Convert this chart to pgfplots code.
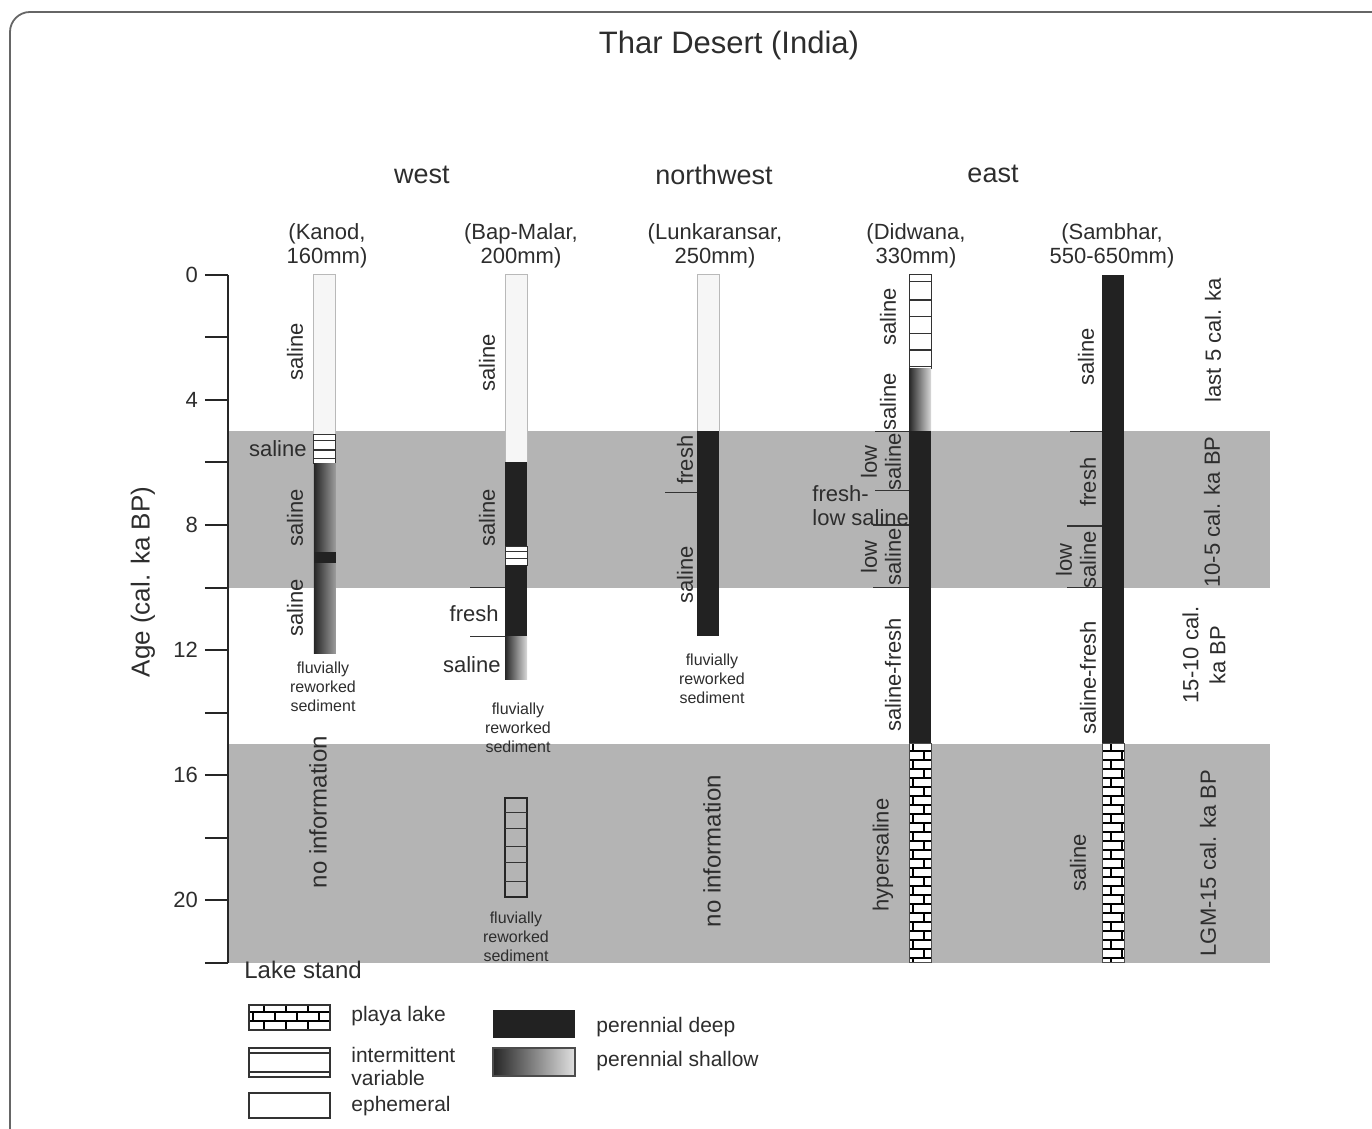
\documentclass[border=0pt]{standalone}
\usepackage{pgfplots}
\pgfplotsset{compat=1.18}
\usepackage{fontspec}
\setmainfont{Liberation Sans}
\usetikzlibrary{patterns}

\definecolor{band}{RGB}{180,180,180}
\definecolor{deepc}{RGB}{34,34,34}
\definecolor{txt}{RGB}{45,45,45}

% brick pattern for playa lake
\pgfdeclarepatternformonly{playa}{\pgfqpoint{-1pt}{-1pt}}{\pgfqpoint{12pt}{10pt}}{\pgfqpoint{11pt}{9pt}}{%
  \pgfsetlinewidth{0.6pt}%
  \pgfpathmoveto{\pgfqpoint{0pt}{0pt}}\pgfpathlineto{\pgfqpoint{11pt}{0pt}}%
  \pgfpathmoveto{\pgfqpoint{0pt}{4.5pt}}\pgfpathlineto{\pgfqpoint{11pt}{4.5pt}}%
  \pgfpathmoveto{\pgfqpoint{5.5pt}{0pt}}\pgfpathlineto{\pgfqpoint{5.5pt}{4.5pt}}%
  \pgfpathmoveto{\pgfqpoint{0pt}{4.5pt}}\pgfpathlineto{\pgfqpoint{0pt}{9pt}}%
  \pgfusepath{stroke}}

\tikzset{
  eph/.style={fill=gray!7, draw=gray!55, line width=0.5pt},
  deep/.style={fill=deepc, draw=none},
  shallow/.style={draw=none, left color=black!85, right color=black!15},
  shallowk/.style={draw=none, left color=black!85, right color=black!38},
  interm/.style={fill=white, draw=black!80, line width=0.5pt},
  playacol/.style={preaction={fill=white}, pattern=playa, draw=black!70, line width=0.5pt},
}

% one segment of a lake column: x left, x right, age top, age bottom, style
\newcommand{\seg}[5]{\addplot[#5] coordinates {(#1,#3) (#2,#3) (#2,#4) (#1,#4)} -- cycle;}
\newcommand{\hl}[4][black!80, line width=0.6pt]{\addplot[#1] coordinates {(#2,#4) (#3,#4)};}

\newcommand{\fa}{\fontsize{11}{12}\selectfont}
\newcommand{\fb}{\fontsize{13.5}{15}\selectfont}
\newcommand{\fs}{\fontsize{8}{9.5}\selectfont}
\newcommand{\fl}{\fontsize{10.5}{11.5}\selectfont}

\begin{document}
\begin{tikzpicture}
\begin{axis}[
  scale only axis, width=521pt, height=343.75pt,
  xmin=228, xmax=1270, ymin=0, ymax=22, y dir=reverse,
  clip=false, axis on top,
  axis x line=none, axis y line*=left,
  ytick={0,2,...,22}, yticklabels={0,,4,,8,,12,,16,,20,},
  tick align=outside, major tick length=11.5pt,
  tick style={black!85, line width=1pt},
  axis line style={black!85, line width=1.1pt},
  yticklabel style={font=\fa, text=txt},
]
% time bands
\seg{228}{1270}{5}{10}{fill=band, draw=none}
\seg{228}{1270}{15}{22}{fill=band, draw=none}

% Kanod
\seg{314}{336}{0}{5.12}{eph}
\seg{314}{336}{5.12}{6.03}{interm}
\hl{314}{336}{5.3} \hl{314}{336}{5.6} \hl{314}{336}{5.86}
\seg{314}{336}{6.03}{12.1}{shallowk}
\seg{314}{336}{8.85}{9.2}{deep}

% Bap-Malar
\seg{505}{527}{0}{6.0}{eph}
\seg{505}{527}{6.0}{8.69}{deep}
\seg{505}{527}{8.69}{9.28}{interm}
\hl{505}{527}{8.85} \hl{505}{527}{9.07}
\seg{505}{527}{9.28}{11.57}{deep}
\seg{505}{527}{11.57}{12.95}{shallow}
\hl{470}{505}{10.0} \hl{470}{505}{11.57}
\seg{505}{527}{16.74}{19.9}{draw=black!85, line width=0.7pt}
\hl{505}{527}{17.2} \hl{505}{527}{17.7} \hl{505}{527}{18.3}
\hl{505}{527}{18.8} \hl{505}{527}{19.4}

% Lunkaransar
\seg{697}{719}{0}{5.0}{eph}
\seg{697}{719}{5.0}{11.55}{deep}
\hl{665}{697}{6.95}

% Didwana
\seg{909}{931}{0}{3.0}{interm}
\hl{909}{931}{0.21} \hl{909}{931}{0.8} \hl{909}{931}{1.33}
\hl{909}{931}{1.87} \hl{909}{931}{2.4} \hl{909}{931}{2.93}
\seg{909}{931}{3.0}{5.0}{shallow}
\seg{909}{931}{5.0}{15.0}{deep}
\seg{909}{931}{15.0}{22.0}{playacol}
\hl{875}{909}{5.0} \hl{875}{909}{6.9} \hl{873}{909}{8.0} \hl{873}{909}{10.0}

% Sambhar
\seg{1102}{1124}{0}{15.0}{deep}
\seg{1102}{1124}{15.0}{22.0}{playacol}
\hl{1070}{1102}{5.0} \hl{1067}{1102}{8.03} \hl{1067}{1102}{10.0}

\coordinate (O) at (axis cs:0,-8.8);
\end{axis}

\begin{scope}[shift={(O)}, x=0.5pt, y=-0.5pt, every node/.style={text=txt, inner sep=0pt}]
\draw[black!60, line width=0.9pt, rounded corners=10pt] (10,12) rectangle (1500,1200);

\node[font=\fontsize{15.5}{18}\selectfont] at (729,45) {Thar Desert (India)};
\node[font=\fb] at (422,175) {west};
\node[font=\fb] at (714,175) {northwest};
\node[font=\fb] at (993,174) {east};

\node[font=\fa, align=center] at (327,246) {(Kanod,\\160mm)};
\node[font=\fa, align=center] at (521,246) {(Bap-Malar,\\200mm)};
\node[font=\fa, align=center] at (715,246) {(Lunkaransar,\\250mm)};
\node[font=\fa, align=center] at (916,246) {(Didwana,\\330mm)};
\node[font=\fa, align=center] at (1112,246) {(Sambhar,\\550-650mm)};

\node[font=\fontsize{13}{15}\selectfont, rotate=90] at (143,582) {Age (cal. ka BP)};

% Kanod
\node[font=\fa, rotate=90] at (295,352) {saline};
\node[font=\fa, anchor=east] at (307,449) {saline};
\node[font=\fa, rotate=90] at (295,518) {saline};
\node[font=\fa, rotate=90] at (295,608) {saline};
\node[font=\fs, align=center] at (323,687) {fluvially\\reworked\\sediment};
\node[font=\fontsize{12}{14}\selectfont, rotate=90] at (318,812) {no information};

% Bap-Malar
\node[font=\fa, rotate=90] at (487,363) {saline};
\node[font=\fa, rotate=90] at (487,518) {saline};
\node[font=\fa, anchor=east] at (499,614) {fresh};
\node[font=\fa, anchor=east] at (501,665) {saline};
\node[font=\fs, align=center] at (518,728) {fluvially\\reworked\\sediment};
\node[font=\fs, align=center] at (516,937) {fluvially\\reworked\\sediment};

% Lunkaransar
\node[font=\fa, rotate=90] at (685,460) {fresh};
\node[font=\fa, rotate=90] at (685,575) {saline};
\node[font=\fs, align=center] at (712,679) {fluvially\\reworked\\sediment};
\node[font=\fontsize{12}{14}\selectfont, rotate=90] at (712,851) {no information};

% Didwana
\node[font=\fa, rotate=90] at (888,317) {saline};
\node[font=\fa, rotate=90] at (888,402) {saline};
\node[font=\fa, rotate=90, align=center] at (881,462) {low\\saline};
\node[font=\fa, anchor=west, align=left] at (812,506) {fresh-\\low saline};
\node[font=\fa, rotate=90, align=center] at (881,557) {low\\saline};
\node[font=\fa, rotate=90] at (893,675) {saline-fresh};
\node[font=\fa, rotate=90] at (883,855) {hypersaline};

% Sambhar
\node[font=\fa, rotate=90] at (1086,357) {saline};
\node[font=\fa, rotate=90] at (1088,482) {fresh};
\node[font=\fa, rotate=90, align=center] at (1076,560) {low\\saline};
\node[font=\fa, rotate=90] at (1088,678) {saline-fresh};
\node[font=\fa, rotate=90] at (1078,863) {saline};

% period labels
\node[font=\fa, rotate=90] at (1213,340) {last 5 cal. ka};
\node[font=\fa, rotate=90] at (1212,512) {10-5 cal. ka BP};
\node[font=\fontsize{11}{13.5}\selectfont, rotate=90, align=center] at (1204,655) {15-10 cal.\\ka BP};
\node[font=\fa, rotate=90] at (1208,863) {LGM-15 cal. ka BP};

% legend
\node[font=\fontsize{12}{14}\selectfont, anchor=west] at (244,970) {Lake stand};
\fill[white] (249,1005) rectangle (330,1030);
\fill[pattern=playa] (249,1005) rectangle (330,1030);
\draw[black!80, line width=0.8pt] (249,1005) rectangle (330,1030);
\node[font=\fl, anchor=west] at (351,1016) {playa lake};
\draw[black!80, line width=0.8pt, fill=white] (249,1048) rectangle (330,1077);
\draw[black!80, line width=0.8pt] (249,1053) -- (330,1053) (249,1072) -- (330,1072);
\node[font=\fl, anchor=west, align=left] at (351,1066) {intermittent\\variable};
\draw[black!80, line width=0.8pt, fill=white] (249,1093) rectangle (330,1118);
\node[font=\fl, anchor=west] at (351,1106) {ephemeral};
\fill[deepc] (493,1010) rectangle (575,1038);
\shade[left color=black!85, right color=black!12] (493,1048) rectangle (575,1076);
\draw[black!70, line width=0.6pt] (493,1048) rectangle (575,1076);
\node[font=\fl, anchor=west] at (596,1027) {perennial deep};
\node[font=\fl, anchor=west] at (596,1061) {perennial shallow};

\coordinate (BB1) at (0,0);
\coordinate (BB2) at (1372,1129);
\end{scope}
\pgfresetboundingbox
\useasboundingbox (BB1) rectangle (BB2);
\end{tikzpicture}
\end{document}
